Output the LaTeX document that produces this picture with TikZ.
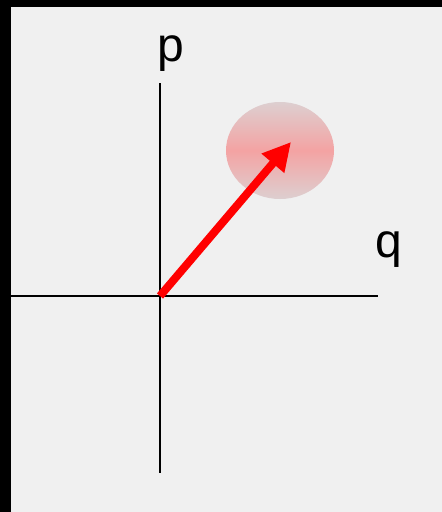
\documentclass[tikz,border=0pt]{standalone}
\usepackage{fontspec}
\setmainfont{Liberation Sans}
\usetikzlibrary{arrows.meta}
\definecolor{bg}{HTML}{F0F0F0}
\definecolor{ellout}{HTML}{DDCFD0}
\definecolor{ellmid}{HTML}{F4A3A3}
\tikzset{
  axis/.style={line width=2pt, black},
  vec/.style={line width=8pt, red, -{Triangle[length=28pt, width=28pt]}},
  lbl/.style={font=\fontsize{48}{48}\selectfont, inner sep=0pt, anchor=base west}
}
\begin{document}
\begin{tikzpicture}[x=1pt, y=-1pt]
\useasboundingbox (0,0) rectangle (442,512);
\fill[black] (0,0) rectangle (442,512);
\fill[bg] (11,7) rectangle (442,512);
\shade[top color=ellout, bottom color=ellout, middle color=ellmid] (280,150.5) ellipse [x radius=54, y radius=48.5];
\coordinate (o) at (160,296);
\coordinate (xl) at (11,296);
\coordinate (xr) at (378,296);
\coordinate (yt) at (160,83);
\coordinate (yb) at (160,473);
\coordinate (tip) at (291,142);
\draw[axis] (xl) -- (xr);
\draw[axis] (yt) -- (yb);
\draw[vec] (o) -- (tip);
\node[lbl] (p) at (157,61) {p};
\node[lbl] (q) at (375,257) {q};
\end{tikzpicture}
\end{document}
